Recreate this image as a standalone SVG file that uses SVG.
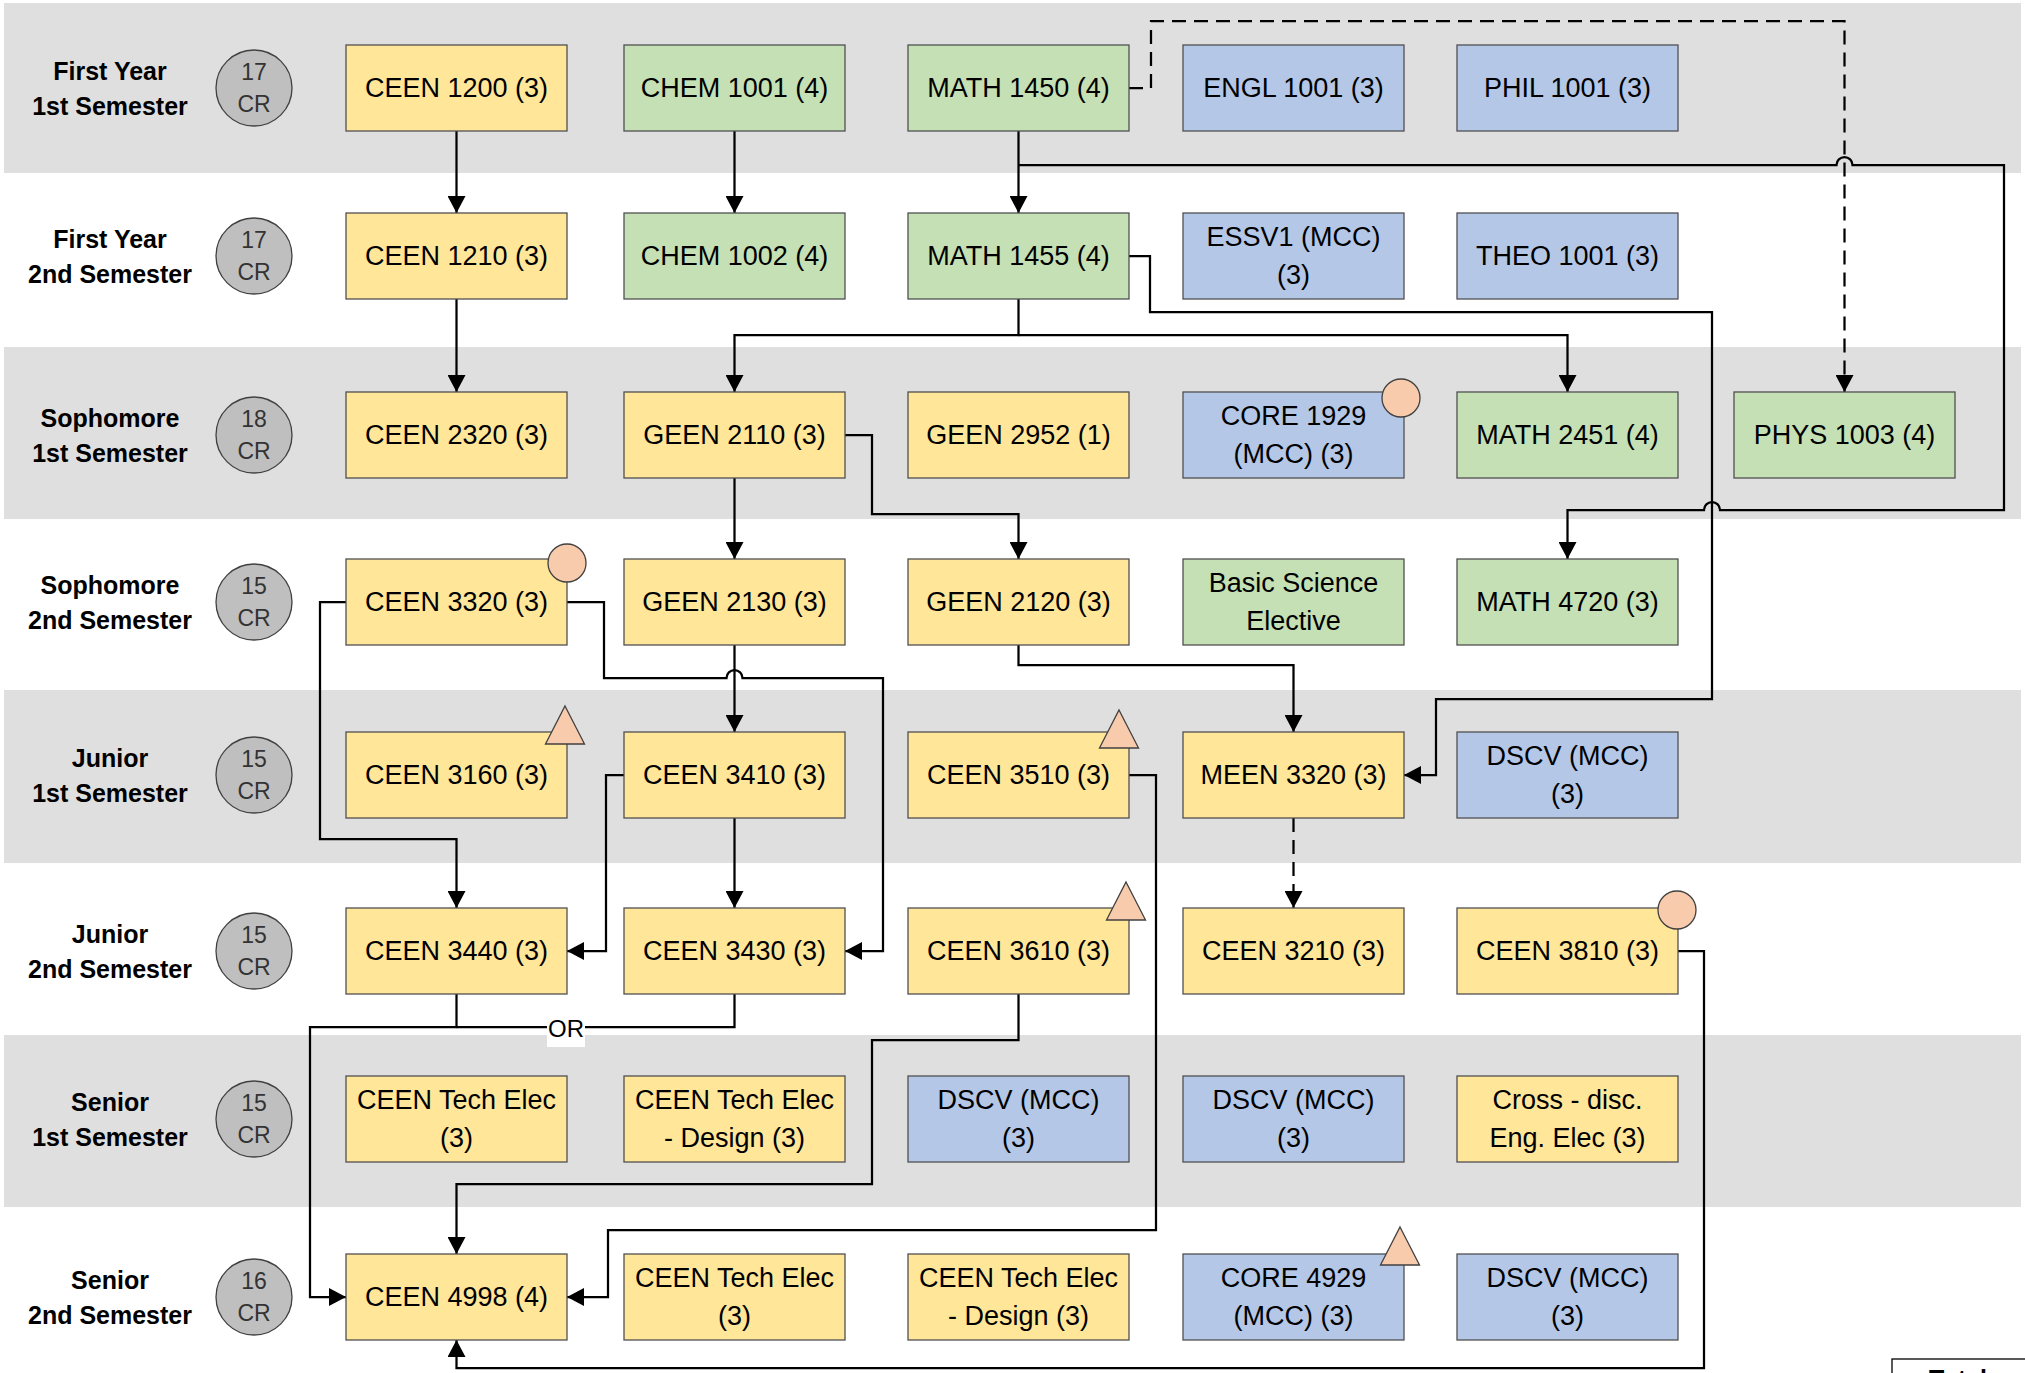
<svg xmlns="http://www.w3.org/2000/svg" width="2025" height="1373" viewBox="0 0 2025 1373">
<style>
.band{fill:#dfdfdf}
.box{stroke:#505050;stroke-width:1.3}
.y{fill:#ffe699}.g{fill:#c5e0b4}.b{fill:#b4c7e7}
text{font-family:"Liberation Sans",Arial,sans-serif}
.t{font-size:27px;text-anchor:middle;fill:#000}
.lbl{font-size:25px;font-weight:bold;text-anchor:middle;fill:#000}
.crc{fill:#bfbfbf;stroke:#404040;stroke-width:1.3}
.crt{font-size:23px;text-anchor:middle;fill:#333}
.badge{fill:#f8cbad;stroke:#404040;stroke-width:1.3}
.wire{fill:none;stroke:#000;stroke-width:2.25}
.arr{marker-end:url(#ah)}
.dash{stroke-dasharray:14 8}
</style>
<defs>
<marker id="ah" markerUnits="userSpaceOnUse" markerWidth="18" markerHeight="18" refX="17" refY="9" orient="auto" viewBox="0 0 18 18"><path d="M0,0 L17,9 L0,18 z" fill="#000"/></marker>
</defs>
<rect width="2025" height="1373" fill="#fff"/>
<g id="bands">
<rect class="band" x="4" y="3" width="2017" height="170"/>
<rect class="band" x="4" y="347" width="2017" height="172"/>
<rect class="band" x="4" y="690" width="2017" height="173"/>
<rect class="band" x="4" y="1035" width="2017" height="172"/>
</g>
<g id="semesters">
<g id="sem1"><text class="lbl" x="110" y="80">First Year</text><text class="lbl" x="110" y="115">1st Semester</text><circle class="crc" cx="254" cy="88" r="38"/><text class="crt" x="254" y="80">17</text><text class="crt" x="254" y="112">CR</text></g>
<g id="sem2"><text class="lbl" x="110" y="248">First Year</text><text class="lbl" x="110" y="283">2nd Semester</text><circle class="crc" cx="254" cy="256" r="38"/><text class="crt" x="254" y="248">17</text><text class="crt" x="254" y="280">CR</text></g>
<g id="sem3"><text class="lbl" x="110" y="427">Sophomore</text><text class="lbl" x="110" y="462">1st Semester</text><circle class="crc" cx="254" cy="435" r="38"/><text class="crt" x="254" y="427">18</text><text class="crt" x="254" y="459">CR</text></g>
<g id="sem4"><text class="lbl" x="110" y="594">Sophomore</text><text class="lbl" x="110" y="629">2nd Semester</text><circle class="crc" cx="254" cy="602" r="38"/><text class="crt" x="254" y="594">15</text><text class="crt" x="254" y="626">CR</text></g>
<g id="sem5"><text class="lbl" x="110" y="767">Junior</text><text class="lbl" x="110" y="802">1st Semester</text><circle class="crc" cx="254" cy="775" r="38"/><text class="crt" x="254" y="767">15</text><text class="crt" x="254" y="799">CR</text></g>
<g id="sem6"><text class="lbl" x="110" y="943">Junior</text><text class="lbl" x="110" y="978">2nd Semester</text><circle class="crc" cx="254" cy="951" r="38"/><text class="crt" x="254" y="943">15</text><text class="crt" x="254" y="975">CR</text></g>
<g id="sem7"><text class="lbl" x="110" y="1111">Senior</text><text class="lbl" x="110" y="1146">1st Semester</text><circle class="crc" cx="254" cy="1119" r="38"/><text class="crt" x="254" y="1111">15</text><text class="crt" x="254" y="1143">CR</text></g>
<g id="sem8"><text class="lbl" x="110" y="1289">Senior</text><text class="lbl" x="110" y="1324">2nd Semester</text><circle class="crc" cx="254" cy="1297" r="38"/><text class="crt" x="254" y="1289">16</text><text class="crt" x="254" y="1321">CR</text></g>
</g>
<g id="connectors">
<path class="wire arr" d="M456.5,131 V213"/>
<path class="wire arr" d="M456.5,299 V392"/>
<path class="wire arr" d="M734.5,131 V213"/>
<path class="wire arr" d="M1018.5,131 V213"/>
<path class="wire arr dash" d="M1129,88 H1151 V21 H1844.5 V392"/>
<path class="wire arr" d="M1018.5,165 H1836.5 A8,8 0 0 1 1852.5,165 H2004 V510 H1720 A8,8 0 0 0 1704,510 H1567.5 V559"/>
<path class="wire arr" d="M1129,256 H1150 V312 H1712 V699 H1436 V775 H1404"/>
<path class="wire arr" d="M1018.5,299 V335 H734.5 V392"/>
<path class="wire arr" d="M1018.5,335 H1567.5 V392"/>
<path class="wire arr" d="M734.5,478 V559"/>
<path class="wire arr" d="M845,435 H872 V514 H1018.5 V559"/>
<path class="wire arr" d="M1018.5,645 V665 H1293.5 V732"/>
<path class="wire arr" d="M346,602 H320 V839 H456.5 V908"/>
<path class="wire arr" d="M567,602 H604 V678 H726.5 A8,8 0 0 1 742.5,678 H883 V951 H845"/>
<path class="wire arr" d="M734.5,645 V732"/>
<path class="wire arr" d="M734.5,818 V908"/>
<path class="wire arr" d="M624,775 H606 V951 H567"/>
<path class="wire arr" d="M456.5,994 V1027 H310 V1297 H346"/>
<path class="wire" d="M734.5,994 V1027 H456.5"/>
<path class="wire arr" d="M1018.5,994 V1040 H872 V1184 H456.5 V1254"/>
<path class="wire arr" d="M1129,775 H1156 V1230 H608 V1297 H567"/>
<path class="wire arr dash" d="M1293.5,818 V908"/>
<path class="wire arr" d="M1678,951 H1704 V1368 H456.5 V1340"/>
<rect x="547" y="1019" width="38" height="28" fill="#fff"/>
<text x="566" y="1037" style="font-size:24px;text-anchor:middle">OR</text>
</g>
<g id="courses">
<g id="ceen1200"><rect class="box y" x="346" y="45" width="221" height="86"/><text class="t" x="456.5" y="97">CEEN 1200 (3)</text></g>
<g id="chem1001"><rect class="box g" x="624" y="45" width="221" height="86"/><text class="t" x="734.5" y="97">CHEM 1001 (4)</text></g>
<g id="math1450"><rect class="box g" x="908" y="45" width="221" height="86"/><text class="t" x="1018.5" y="97">MATH 1450 (4)</text></g>
<g id="engl1001"><rect class="box b" x="1183" y="45" width="221" height="86"/><text class="t" x="1293.5" y="97">ENGL 1001 (3)</text></g>
<g id="phil1001"><rect class="box b" x="1457" y="45" width="221" height="86"/><text class="t" x="1567.5" y="97">PHIL 1001 (3)</text></g>

<g id="ceen1210"><rect class="box y" x="346" y="213" width="221" height="86"/><text class="t" x="456.5" y="265">CEEN 1210 (3)</text></g>
<g id="chem1002"><rect class="box g" x="624" y="213" width="221" height="86"/><text class="t" x="734.5" y="265">CHEM 1002 (4)</text></g>
<g id="math1455"><rect class="box g" x="908" y="213" width="221" height="86"/><text class="t" x="1018.5" y="265">MATH 1455 (4)</text></g>
<g id="essv1"><rect class="box b" x="1183" y="213" width="221" height="86"/><text class="t" x="1293.5" y="246">ESSV1 (MCC)</text><text class="t" x="1293.5" y="284">(3)</text></g>
<g id="theo1001"><rect class="box b" x="1457" y="213" width="221" height="86"/><text class="t" x="1567.5" y="265">THEO 1001 (3)</text></g>

<g id="ceen2320"><rect class="box y" x="346" y="392" width="221" height="86"/><text class="t" x="456.5" y="444">CEEN 2320 (3)</text></g>
<g id="geen2110"><rect class="box y" x="624" y="392" width="221" height="86"/><text class="t" x="734.5" y="444">GEEN 2110 (3)</text></g>
<g id="geen2952"><rect class="box y" x="908" y="392" width="221" height="86"/><text class="t" x="1018.5" y="444">GEEN 2952 (1)</text></g>
<g id="core1929"><rect class="box b" x="1183" y="392" width="221" height="86"/><text class="t" x="1293.5" y="425">CORE 1929</text><text class="t" x="1293.5" y="463">(MCC) (3)</text><circle class="badge" cx="1401" cy="398" r="19"/></g>
<g id="math2451"><rect class="box g" x="1457" y="392" width="221" height="86"/><text class="t" x="1567.5" y="444">MATH 2451 (4)</text></g>
<g id="phys1003"><rect class="box g" x="1734" y="392" width="221" height="86"/><text class="t" x="1844.5" y="444">PHYS 1003 (4)</text></g>

<g id="ceen3320"><rect class="box y" x="346" y="559" width="221" height="86"/><text class="t" x="456.5" y="611">CEEN 3320 (3)</text><circle class="badge" cx="567" cy="563" r="19"/></g>
<g id="geen2130"><rect class="box y" x="624" y="559" width="221" height="86"/><text class="t" x="734.5" y="611">GEEN 2130 (3)</text></g>
<g id="geen2120"><rect class="box y" x="908" y="559" width="221" height="86"/><text class="t" x="1018.5" y="611">GEEN 2120 (3)</text></g>
<g id="basicsci"><rect class="box g" x="1183" y="559" width="221" height="86"/><text class="t" x="1293.5" y="592">Basic Science</text><text class="t" x="1293.5" y="630">Elective</text></g>
<g id="math4720"><rect class="box g" x="1457" y="559" width="221" height="86"/><text class="t" x="1567.5" y="611">MATH 4720 (3)</text></g>

<g id="ceen3160"><rect class="box y" x="346" y="732" width="221" height="86"/><text class="t" x="456.5" y="784">CEEN 3160 (3)</text><path class="badge" d="M565,706 L584.5,744 L545.5,744 Z"/></g>
<g id="ceen3410"><rect class="box y" x="624" y="732" width="221" height="86"/><text class="t" x="734.5" y="784">CEEN 3410 (3)</text></g>
<g id="ceen3510"><rect class="box y" x="908" y="732" width="221" height="86"/><text class="t" x="1018.5" y="784">CEEN 3510 (3)</text><path class="badge" d="M1119,710 L1138.5,748 L1099.5,748 Z"/></g>
<g id="meen3320"><rect class="box y" x="1183" y="732" width="221" height="86"/><text class="t" x="1293.5" y="784">MEEN 3320 (3)</text></g>
<g id="dscv1"><rect class="box b" x="1457" y="732" width="221" height="86"/><text class="t" x="1567.5" y="765">DSCV (MCC)</text><text class="t" x="1567.5" y="803">(3)</text></g>

<g id="ceen3440"><rect class="box y" x="346" y="908" width="221" height="86"/><text class="t" x="456.5" y="960">CEEN 3440 (3)</text></g>
<g id="ceen3430"><rect class="box y" x="624" y="908" width="221" height="86"/><text class="t" x="734.5" y="960">CEEN 3430 (3)</text></g>
<g id="ceen3610"><rect class="box y" x="908" y="908" width="221" height="86"/><text class="t" x="1018.5" y="960">CEEN 3610 (3)</text><path class="badge" d="M1126,882 L1145.5,920 L1106.5,920 Z"/></g>
<g id="ceen3210"><rect class="box y" x="1183" y="908" width="221" height="86"/><text class="t" x="1293.5" y="960">CEEN 3210 (3)</text></g>
<g id="ceen3810"><rect class="box y" x="1457" y="908" width="221" height="86"/><text class="t" x="1567.5" y="960">CEEN 3810 (3)</text><circle class="badge" cx="1677" cy="910" r="19"/></g>

<g id="techelec1"><rect class="box y" x="346" y="1076" width="221" height="86"/><text class="t" x="456.5" y="1109">CEEN Tech Elec</text><text class="t" x="456.5" y="1147">(3)</text></g>
<g id="techdesign1"><rect class="box y" x="624" y="1076" width="221" height="86"/><text class="t" x="734.5" y="1109">CEEN Tech Elec</text><text class="t" x="734.5" y="1147">- Design (3)</text></g>
<g id="dscv2"><rect class="box b" x="908" y="1076" width="221" height="86"/><text class="t" x="1018.5" y="1109">DSCV (MCC)</text><text class="t" x="1018.5" y="1147">(3)</text></g>
<g id="dscv3"><rect class="box b" x="1183" y="1076" width="221" height="86"/><text class="t" x="1293.5" y="1109">DSCV (MCC)</text><text class="t" x="1293.5" y="1147">(3)</text></g>
<g id="crossdisc"><rect class="box y" x="1457" y="1076" width="221" height="86"/><text class="t" x="1567.5" y="1109">Cross - disc.</text><text class="t" x="1567.5" y="1147">Eng. Elec (3)</text></g>

<g id="ceen4998"><rect class="box y" x="346" y="1254" width="221" height="86"/><text class="t" x="456.5" y="1306">CEEN 4998 (4)</text></g>
<g id="techelec2"><rect class="box y" x="624" y="1254" width="221" height="86"/><text class="t" x="734.5" y="1287">CEEN Tech Elec</text><text class="t" x="734.5" y="1325">(3)</text></g>
<g id="techdesign2"><rect class="box y" x="908" y="1254" width="221" height="86"/><text class="t" x="1018.5" y="1287">CEEN Tech Elec</text><text class="t" x="1018.5" y="1325">- Design (3)</text></g>
<g id="core4929"><rect class="box b" x="1183" y="1254" width="221" height="86"/><text class="t" x="1293.5" y="1287">CORE 4929</text><text class="t" x="1293.5" y="1325">(MCC) (3)</text><path class="badge" d="M1400,1227 L1419.5,1265 L1380.5,1265 Z"/></g>
<g id="dscv4"><rect class="box b" x="1457" y="1254" width="221" height="86"/><text class="t" x="1567.5" y="1287">DSCV (MCC)</text><text class="t" x="1567.5" y="1325">(3)</text></g>
</g>
<g id="total">
<rect x="1892" y="1359" width="150" height="40" fill="#fff" stroke="#000" stroke-width="1.3"/>
<text x="1929" y="1388" style="font-size:25px;font-weight:bold">Total</text>
</g>
</svg>
